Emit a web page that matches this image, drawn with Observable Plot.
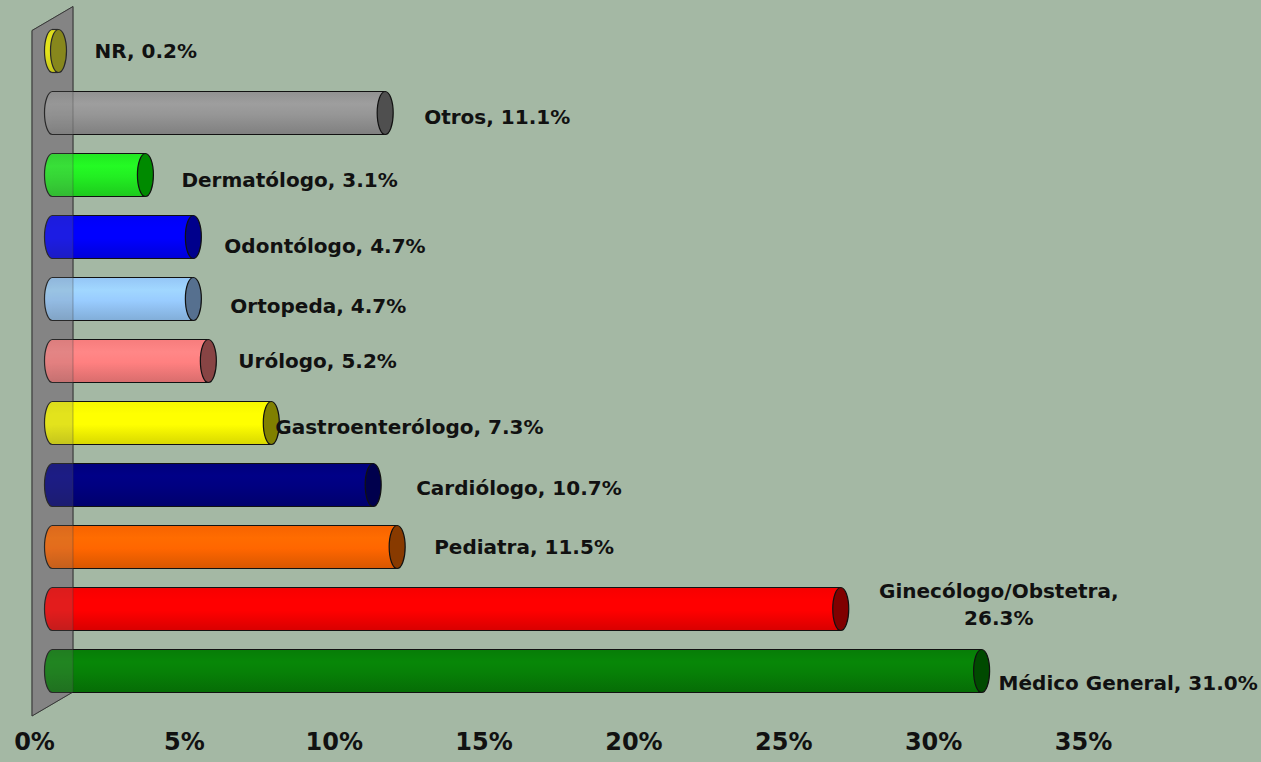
<!DOCTYPE html>
<html>
<head>
<meta charset="utf-8">
<script src="https://cdn.jsdelivr.net/npm/d3@7"></script>
<script src="https://cdn.jsdelivr.net/npm/@observablehq/plot@0.6"></script>
<style>
  html, body { margin: 0; padding: 0; background: #a4b8a4; }
  #chart svg { display: block; }
</style>
</head>
<body>
<div id="chart"></div>
<script>
// ---- data ----
const categories = ["NR", "Otros", "Dermatólogo", "Odontólogo", "Ortopeda", "Urólogo",
  "Gastroenterólogo", "Cardiólogo", "Pediatra", "Ginecólogo/Obstetra", "Médico General"];
const values = [0.2, 11.1, 3.1, 4.7, 4.7, 5.2, 7.3, 10.7, 11.5, 26.3, 31.0];
const bodyColors = ["#ffff00", "#969696", "#22ee22", "#0000ff", "#99ccff", "#ff8080",
  "#ffff00", "#000080", "#ff6600", "#ff0000", "#078007"];
const capColors = ["#8a8a00", "#4f4f4f", "#008a00", "#00008c", "#56708f", "#884444",
  "#808000", "#00004d", "#883a00", "#800000", "#004a00"];
const xTicks = [0, 5, 10, 15, 20, 25, 30, 35];

// label nudges (style only)
const labelNudge = {
  "NR": {dx: 36, dy: -2},
  "Otros": {dx: 39, dy: 2},
  "Dermatólogo": {dx: 36, dy: 3},
  "Odontólogo": {dx: 31, dy: 7},
  "Ortopeda": {dx: 37, dy: 5},
  "Urólogo": {dx: 30, dy: -2},
  "Gastroenterólogo": {dx: 4, dy: 2},
  "Cardiólogo": {dx: 43, dy: 1},
  "Pediatra": {dx: 37, dy: -2},
  "Ginecólogo/Obstetra": {dx: 158, dy: -6, textAnchor: "middle"},
  "Médico General": {dx: 17, dy: 10}
};

(function () {
const data = categories.map((cat, i) => ({
  cat,
  value: values[i],
  label: cat === "Ginecólogo/Obstetra"
    ? `${cat},\n${values[i].toFixed(1)}%`
    : `${cat}, ${values[i].toFixed(1)}%`
}));

const colorDomain = [...categories.map(c => "b:" + c), ...categories.map(c => "c:" + c)];
const colorRange = [...categories.map((c, i) => `url(#grad${i})`), ...capColors];

const RX = 8, RY = 21.5, K = 0.5523;
const ellipse = {
  draw(ctx) {
    const kx = RX * K, ky = RY * K;
    ctx.moveTo(RX, 0);
    ctx.bezierCurveTo(RX, ky, kx, RY, 0, RY);
    ctx.bezierCurveTo(-kx, RY, -RX, ky, -RX, 0);
    ctx.bezierCurveTo(-RX, -ky, -kx, -RY, 0, -RY);
    ctx.bezierCurveTo(kx, -RY, RX, -ky, RX, 0);
    ctx.closePath();
  }
};

const font = "DejaVu Sans";

const labelMarks = data.map(d => {
  const n = labelNudge[d.cat] || {dx: 36, dy: 2};
  return Plot.text([d], {
    x: "value", y: "cat", text: "label",
    textAnchor: n.textAnchor || "start",
    dx: n.dx, dy: n.dy,
    fontSize: 20, fontWeight: "bold", fill: "#111",
    lineHeight: 1.35
  });
});

const chart = Plot.plot({
  width: 1261,
  height: 762,
  marginLeft: 52,
  marginRight: 160,
  marginTop: 10.5,
  marginBottom: 50.5,
  x: {domain: [0, 35], axis: null},
  y: {domain: categories, axis: null, padding: 0.306},
  color: {type: "ordinal", domain: colorDomain, range: colorRange},
  style: {background: "#a4b8a4", fontFamily: font},
  marks: [
    Plot.dot(data, {x: d => 0, y: "cat", symbol: ellipse, fill: d => "b:" + d.cat, stroke: "#111", strokeWidth: 1.2}),
    Plot.barX(data, {x1: d => 0, x2: "value", y: "cat", fill: d => "b:" + d.cat}),
    Plot.ruleY(data, {y: "cat", x1: d => 0, x2: "value", dy: -RY, stroke: "#111", strokeWidth: 1.2}),
    Plot.ruleY(data, {y: "cat", x1: d => 0, x2: "value", dy: RY, stroke: "#111", strokeWidth: 1.2}),
    Plot.dot(data, {x: "value", y: "cat", symbol: ellipse, fill: d => "c:" + d.cat, stroke: "#111", strokeWidth: 1.2}),
    ...labelMarks,
    Plot.text(xTicks, {
      x: d => d, text: d => `${d}%`, frameAnchor: "bottom",
      dy: 37.5, dx: -18, fontSize: 24, fontWeight: "bold", fill: "#111"
    })
  ]
});

// gradients for cylinder bodies
const ns = "http://www.w3.org/2000/svg";
const defs = document.createElementNS(ns, "defs");
bodyColors.forEach((c, i) => {
  const g = document.createElementNS(ns, "linearGradient");
  g.setAttribute("id", `grad${i}`);
  g.setAttribute("x1", "0"); g.setAttribute("y1", "0");
  g.setAttribute("x2", "0"); g.setAttribute("y2", "1");
  const base = d3.color(c);
  const stops = [
    [0, base.darker(0.1)],
    [0.3, base.brighter(0.15)],
    [0.55, base],
    [1, base.darker(0.45)]
  ];
  for (const [o, col] of stops) {
    const s = document.createElementNS(ns, "stop");
    s.setAttribute("offset", o);
    s.setAttribute("stop-color", col.formatHex());
    g.appendChild(s);
  }
  defs.appendChild(g);
});
chart.insertBefore(defs, chart.firstChild);

// side wall (uses the chart's own scales)
const xs = chart.scale("x"), ys = chart.scale("y");
const x0 = xs.apply(0);
const yTop = ys.apply(categories[0]);
const yBot = ys.apply(categories[categories.length - 1]) + ys.bandwidth;
const xb = x0 + 21, xf = x0 - 20, depth = 24;
const wallTop = yTop - 22.5;
const wallPts = [[xf, wallTop + depth], [xb, wallTop], [xb, yBot], [xf, yBot + depth]];
const wallD = "M" + wallPts.map(p => p.join(",")).join("L") + "Z";

const wall = document.createElementNS(ns, "path");
wall.setAttribute("d", wallD);
wall.setAttribute("fill", "#868686");
wall.setAttribute("stroke", "#333");
wall.setAttribute("stroke-width", "1");
const firstG = chart.querySelector("g");
chart.insertBefore(wall, firstG);

const overlay = document.createElementNS(ns, "path");
overlay.setAttribute("d", wallD);
overlay.setAttribute("fill", "#808080");
overlay.setAttribute("fill-opacity", "0.22");
overlay.setAttribute("stroke", "#333");
overlay.setAttribute("stroke-opacity", "0.35");
overlay.setAttribute("stroke-width", "1");
chart.appendChild(overlay);

document.getElementById("chart").appendChild(chart);
})();
</script>
</body>
</html>
